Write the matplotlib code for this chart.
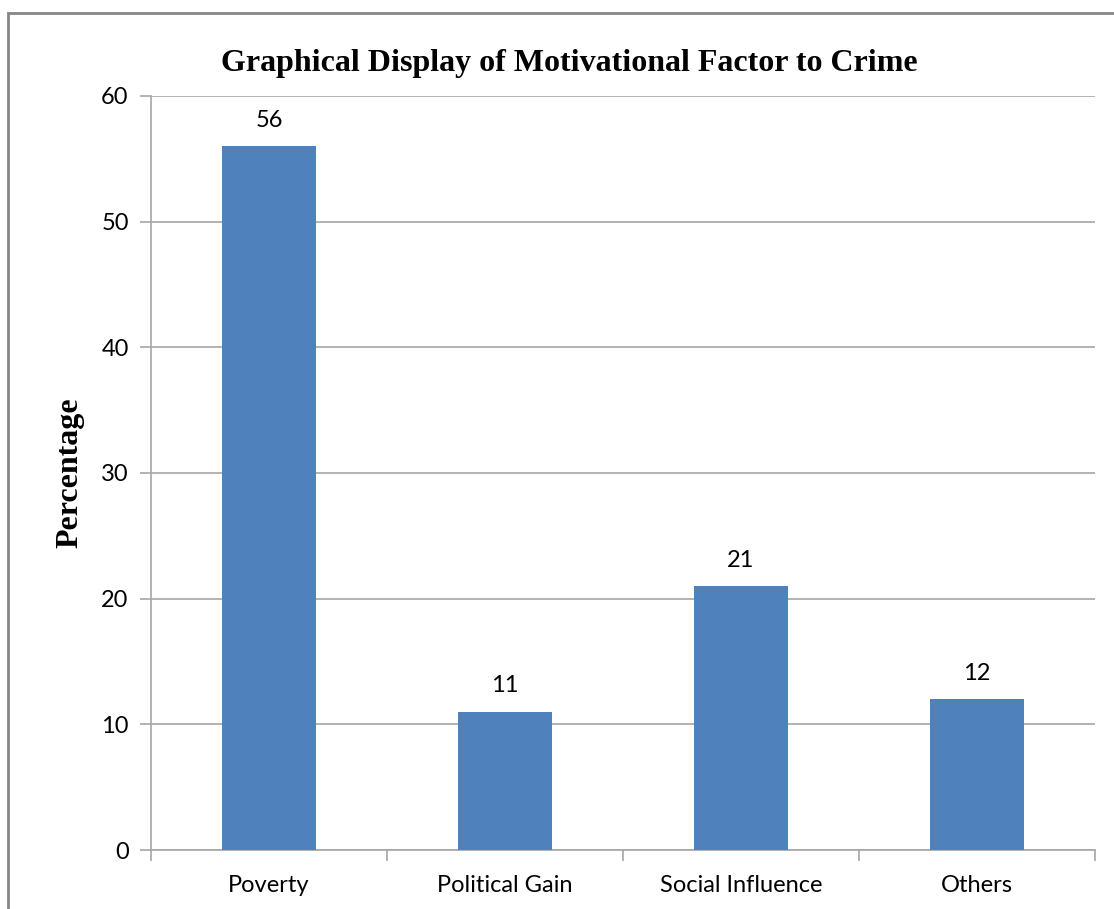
import matplotlib.pyplot as plt
from matplotlib.patches import Rectangle

factors = ['Poverty', 'Political Gain', 'Social Influence', 'Others']
percent = [56, 11, 21, 12]
yticks = [0, 10, 20, 30, 40, 50, 60]

fig = plt.figure(figsize=(11.14, 9.09), dpi=100)
ax = fig.add_axes([0.1355, 0.0649, 0.8475, 0.8295])

x = list(range(len(factors)))
bars = ax.bar(x, percent, width=0.4, color='#4F81BD', zorder=3)

for xi, v in zip(x, percent):
    ax.annotate(str(v), (xi, v), xytext=(0, 11), textcoords='offset points',
                ha='center', va='bottom', fontsize=17, family='Lato')

ax.set_xlim(-0.5, len(factors) - 0.5)
ax.set_ylim(0, 60)
ax.set_yticks(yticks)
ax.yaxis.grid(True, color='#A6A6A6', linewidth=1.2, zorder=0)

# category labels centred, tick marks on category borders
ax.set_xticks(x)
ax.set_xticklabels(factors, fontsize=17, family='Lato')
ax.set_xticks([i - 0.5 for i in range(len(factors) + 1)], minor=True)
ax.tick_params(axis='x', which='major', length=0, pad=18)
ax.tick_params(axis='x', which='minor', length=8, width=1.2, color='#A6A6A6')
ax.tick_params(axis='y', length=8, width=1.2, color='#A6A6A6', pad=8, labelsize=17)
for lab in ax.get_yticklabels():
    lab.set_family('Lato')

for s in ['top', 'right']:
    ax.spines[s].set_visible(False)
for s in ['left', 'bottom']:
    ax.spines[s].set_color('#A6A6A6')
    ax.spines[s].set_linewidth(1.2)

ax.set_ylabel('Percentage', fontsize=23, fontweight='bold',
              family='Liberation Serif', labelpad=12)
fig.text(0.511, 0.930, 'Graphical Display of Motivational Factor to Crime',
         ha='center', va='center', fontsize=23, fontweight='bold',
         family='Liberation Serif')

# outer chart frame
fig.patches.append(Rectangle((8 / 1114, -0.1), 1.2, (909 - 13) / 909 + 0.1,
                             transform=fig.transFigure, fill=False,
                             edgecolor='#868686', linewidth=2))

fig.savefig('out.png', dpi=100)
